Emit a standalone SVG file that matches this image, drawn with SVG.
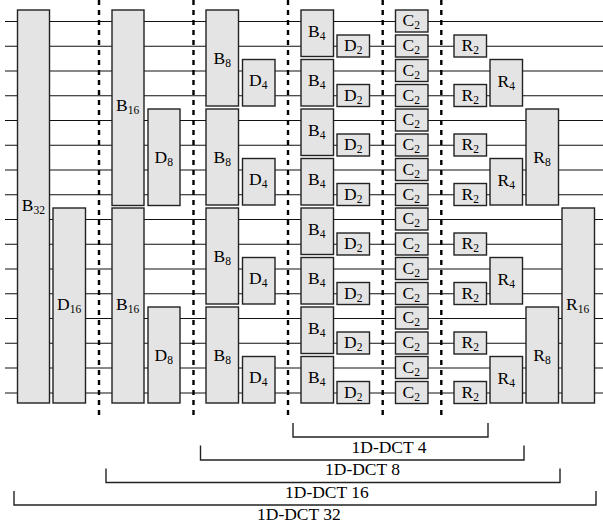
<svg xmlns="http://www.w3.org/2000/svg" width="603" height="529" viewBox="0 0 603 529">
<style>
.w{stroke:#111;stroke-width:1.1;fill:none}
.d{stroke:#000;stroke-width:2.4;stroke-dasharray:5 5;fill:none}
.b{stroke:#222;stroke-width:1.4;fill:none}
rect{fill:#e4e4e4;stroke:#222;stroke-width:1.4}
text{font-family:"Liberation Serif","Times New Roman",serif;font-size:17.5px;fill:#000}
.s{font-size:11.5px}
</style>
<rect x="0" y="0" width="603" height="529" style="fill:#fff;stroke:none"/>
<g id="connectors">
<path class="w" d="M5 21.5H603M5 46.2H603M5 71H603M5 95.7H603M5 120.5H603M5 145.3H603M5 170H603M5 194.7H603M5 219.5H603M5 244.3H603M5 269H603M5 293.7H603M5 318.5H603M5 343.3H603M5 368H603M5 393H603"/>
<path class="d" d="M99 0V418M193.5 0V418M288 0V418M382.7 0V418M441.3 0V418"/>
<path class="b" d="M293 423V437H488V423M200.5 445.5V460H524V445.5M106 468.5V482.5H560V468.5M14 491V505H596V491"/>
</g>
<g id="n-b32"><rect x="17.5" y="10" width="32" height="393"/><text x="21.7" y="211">B<tspan class="s" dy="3">32</tspan></text></g>
<g id="n-d16"><rect x="53" y="208" width="32.5" height="195"/><text x="57" y="310">D<tspan class="s" dy="3">16</tspan></text></g>
<g id="n-b16a"><rect x="112" y="10" width="32" height="195.5"/><text x="116" y="111">B<tspan class="s" dy="3">16</tspan></text></g>
<g id="n-b16b"><rect x="112" y="208" width="32" height="195"/><text x="116" y="310">B<tspan class="s" dy="3">16</tspan></text></g>
<g id="n-d8a"><rect x="148" y="109" width="32" height="96.5"/><text x="154.5" y="163">D<tspan class="s" dy="3">8</tspan></text></g>
<g id="n-d8b"><rect x="148" y="307" width="32" height="96"/><text x="154.5" y="361">D<tspan class="s" dy="3">8</tspan></text></g>
<g id="n-b8a"><rect x="206" y="10" width="32.5" height="96"/><text x="213.5" y="64">B<tspan class="s" dy="3">8</tspan></text></g>
<g id="n-b8b"><rect x="206" y="109" width="32.5" height="96"/><text x="213.5" y="163">B<tspan class="s" dy="3">8</tspan></text></g>
<g id="n-b8c"><rect x="206" y="208" width="32.5" height="96"/><text x="213.5" y="262">B<tspan class="s" dy="3">8</tspan></text></g>
<g id="n-b8d"><rect x="206" y="307" width="32.5" height="96"/><text x="213.5" y="361">B<tspan class="s" dy="3">8</tspan></text></g>
<g id="n-d4a"><rect x="242.5" y="59.5" width="32.5" height="46.5"/><text x="249" y="86">D<tspan class="s" dy="3">4</tspan></text></g>
<g id="n-d4b"><rect x="242.5" y="158.5" width="32.5" height="46.5"/><text x="249" y="185">D<tspan class="s" dy="3">4</tspan></text></g>
<g id="n-d4c"><rect x="242.5" y="257.5" width="32.5" height="46.5"/><text x="249" y="284">D<tspan class="s" dy="3">4</tspan></text></g>
<g id="n-d4d"><rect x="242.5" y="356.5" width="32.5" height="46.5"/><text x="249" y="383">D<tspan class="s" dy="3">4</tspan></text></g>
<g id="n-b4a"><rect x="301" y="10" width="32.5" height="46.5"/><text x="308" y="37">B<tspan class="s" dy="3">4</tspan></text></g>
<g id="n-b4b"><rect x="301" y="59.5" width="32.5" height="46.5"/><text x="308" y="86">B<tspan class="s" dy="3">4</tspan></text></g>
<g id="n-b4c"><rect x="301" y="109" width="32.5" height="46.5"/><text x="308" y="136">B<tspan class="s" dy="3">4</tspan></text></g>
<g id="n-b4d"><rect x="301" y="158.5" width="32.5" height="46.5"/><text x="308" y="185">B<tspan class="s" dy="3">4</tspan></text></g>
<g id="n-b4e"><rect x="301" y="208" width="32.5" height="46.5"/><text x="308" y="235">B<tspan class="s" dy="3">4</tspan></text></g>
<g id="n-b4f"><rect x="301" y="257.5" width="32.5" height="46.5"/><text x="308" y="284">B<tspan class="s" dy="3">4</tspan></text></g>
<g id="n-b4g"><rect x="301" y="307" width="32.5" height="46.5"/><text x="308" y="334">B<tspan class="s" dy="3">4</tspan></text></g>
<g id="n-b4h"><rect x="301" y="356.5" width="32.5" height="46.5"/><text x="308" y="383">B<tspan class="s" dy="3">4</tspan></text></g>
<g id="n-d2a"><rect x="337" y="35" width="32.5" height="22"/><text x="344" y="51">D<tspan class="s" dy="3">2</tspan></text></g>
<g id="n-d2b"><rect x="337" y="84.5" width="32.5" height="22"/><text x="344" y="100.5">D<tspan class="s" dy="3">2</tspan></text></g>
<g id="n-d2c"><rect x="337" y="134" width="32.5" height="22"/><text x="344" y="150">D<tspan class="s" dy="3">2</tspan></text></g>
<g id="n-d2d"><rect x="337" y="183.5" width="32.5" height="22"/><text x="344" y="199.5">D<tspan class="s" dy="3">2</tspan></text></g>
<g id="n-d2e"><rect x="337" y="233" width="32.5" height="22"/><text x="344" y="249">D<tspan class="s" dy="3">2</tspan></text></g>
<g id="n-d2f"><rect x="337" y="282.5" width="32.5" height="22"/><text x="344" y="298.5">D<tspan class="s" dy="3">2</tspan></text></g>
<g id="n-d2g"><rect x="337" y="332" width="32.5" height="22"/><text x="344" y="348">D<tspan class="s" dy="3">2</tspan></text></g>
<g id="n-d2h"><rect x="337" y="381.5" width="32.5" height="22"/><text x="344" y="397.5">D<tspan class="s" dy="3">2</tspan></text></g>
<g id="n-c2a"><rect x="395.5" y="10" width="32.5" height="22"/><text x="402.5" y="26">C<tspan class="s" dy="3">2</tspan></text></g>
<g id="n-c2b"><rect x="395.5" y="35" width="32.5" height="22"/><text x="402.5" y="51">C<tspan class="s" dy="3">2</tspan></text></g>
<g id="n-c2c"><rect x="395.5" y="59.5" width="32.5" height="22"/><text x="402.5" y="75.5">C<tspan class="s" dy="3">2</tspan></text></g>
<g id="n-c2d"><rect x="395.5" y="84.5" width="32.5" height="22"/><text x="402.5" y="100.5">C<tspan class="s" dy="3">2</tspan></text></g>
<g id="n-c2e"><rect x="395.5" y="109" width="32.5" height="22"/><text x="402.5" y="125">C<tspan class="s" dy="3">2</tspan></text></g>
<g id="n-c2f"><rect x="395.5" y="134" width="32.5" height="22"/><text x="402.5" y="150">C<tspan class="s" dy="3">2</tspan></text></g>
<g id="n-c2g"><rect x="395.5" y="158.5" width="32.5" height="22"/><text x="402.5" y="174.5">C<tspan class="s" dy="3">2</tspan></text></g>
<g id="n-c2h"><rect x="395.5" y="183.5" width="32.5" height="22"/><text x="402.5" y="199.5">C<tspan class="s" dy="3">2</tspan></text></g>
<g id="n-c2i"><rect x="395.5" y="208" width="32.5" height="22"/><text x="402.5" y="224">C<tspan class="s" dy="3">2</tspan></text></g>
<g id="n-c2j"><rect x="395.5" y="233" width="32.5" height="22"/><text x="402.5" y="249">C<tspan class="s" dy="3">2</tspan></text></g>
<g id="n-c2k"><rect x="395.5" y="257.5" width="32.5" height="22"/><text x="402.5" y="273.5">C<tspan class="s" dy="3">2</tspan></text></g>
<g id="n-c2l"><rect x="395.5" y="282.5" width="32.5" height="22"/><text x="402.5" y="298.5">C<tspan class="s" dy="3">2</tspan></text></g>
<g id="n-c2m"><rect x="395.5" y="307" width="32.5" height="22"/><text x="402.5" y="323">C<tspan class="s" dy="3">2</tspan></text></g>
<g id="n-c2n"><rect x="395.5" y="332" width="32.5" height="22"/><text x="402.5" y="348">C<tspan class="s" dy="3">2</tspan></text></g>
<g id="n-c2o"><rect x="395.5" y="356.5" width="32.5" height="22"/><text x="402.5" y="372.5">C<tspan class="s" dy="3">2</tspan></text></g>
<g id="n-c2p"><rect x="395.5" y="381.5" width="32.5" height="22"/><text x="402.5" y="397.5">C<tspan class="s" dy="3">2</tspan></text></g>
<g id="n-r2a"><rect x="454" y="35" width="32.5" height="22"/><text x="461.5" y="51">R<tspan class="s" dy="3">2</tspan></text></g>
<g id="n-r2b"><rect x="454" y="84.5" width="32.5" height="22"/><text x="461.5" y="100.5">R<tspan class="s" dy="3">2</tspan></text></g>
<g id="n-r2c"><rect x="454" y="134" width="32.5" height="22"/><text x="461.5" y="150">R<tspan class="s" dy="3">2</tspan></text></g>
<g id="n-r2d"><rect x="454" y="183.5" width="32.5" height="22"/><text x="461.5" y="199.5">R<tspan class="s" dy="3">2</tspan></text></g>
<g id="n-r2e"><rect x="454" y="233" width="32.5" height="22"/><text x="461.5" y="249">R<tspan class="s" dy="3">2</tspan></text></g>
<g id="n-r2f"><rect x="454" y="282.5" width="32.5" height="22"/><text x="461.5" y="298.5">R<tspan class="s" dy="3">2</tspan></text></g>
<g id="n-r2g"><rect x="454" y="332" width="32.5" height="22"/><text x="461.5" y="348">R<tspan class="s" dy="3">2</tspan></text></g>
<g id="n-r2h"><rect x="454" y="381.5" width="32.5" height="22"/><text x="461.5" y="397.5">R<tspan class="s" dy="3">2</tspan></text></g>
<g id="n-r4a"><rect x="490" y="59.5" width="32.5" height="46.5"/><text x="497.5" y="86.5">R<tspan class="s" dy="3">4</tspan></text></g>
<g id="n-r4b"><rect x="490" y="158.5" width="32.5" height="46.5"/><text x="497.5" y="185.5">R<tspan class="s" dy="3">4</tspan></text></g>
<g id="n-r4c"><rect x="490" y="257.5" width="32.5" height="46.5"/><text x="497.5" y="284.5">R<tspan class="s" dy="3">4</tspan></text></g>
<g id="n-r4d"><rect x="490" y="356.5" width="32.5" height="46.5"/><text x="497.5" y="383.5">R<tspan class="s" dy="3">4</tspan></text></g>
<g id="n-r8a"><rect x="526" y="109" width="32.5" height="96"/><text x="533.3" y="163">R<tspan class="s" dy="3">8</tspan></text></g>
<g id="n-r8b"><rect x="526" y="307" width="32.5" height="96"/><text x="533.3" y="361">R<tspan class="s" dy="3">8</tspan></text></g>
<g id="n-r16"><rect x="562" y="208" width="32.5" height="195"/><text x="566" y="310">R<tspan class="s" dy="3">16</tspan></text></g>
<g id="labels">
<text x="351.5" y="452.5">1D-DCT 4</text>
<text x="325" y="475">1D-DCT 8</text>
<text x="285" y="497.5">1D-DCT 16</text>
<text x="257" y="520">1D-DCT 32</text>
</g>
</svg>
